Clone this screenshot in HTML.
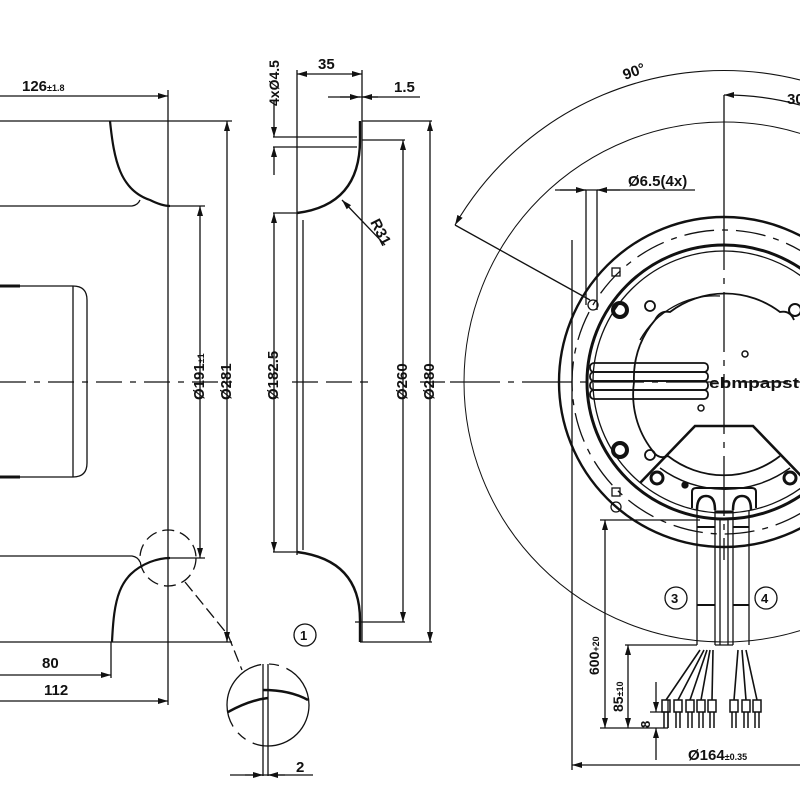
<!DOCTYPE html>
<html><head><meta charset="utf-8"><style>
html,body{margin:0;padding:0;background:#fff;width:800px;height:800px;overflow:hidden}
svg{display:block}
text{font-family:"Liberation Sans",sans-serif;font-weight:bold;fill:#111}
</style></head><body>
<svg width="800" height="800" viewBox="0 0 800 800" xmlns="http://www.w3.org/2000/svg">
<defs>
<marker id="a" viewBox="0 0 10 6" refX="10" refY="3" markerWidth="10" markerHeight="6" orient="auto-start-reverse" markerUnits="userSpaceOnUse"><path d="M0,0 L10,3 L0,6z" fill="#111"/></marker>
</defs>
<g stroke="#111" fill="none" stroke-width="1.3">
<!-- LEFT VIEW -->
<line x1="0" y1="121" x2="232" y2="121"/>
<path d="M110,121 C114,160 120,190 150,200 C158,204 164,206 170,206" stroke-width="2.2"/>
<path d="M0,206 L132,206 Q138,205 140,200"/>
<line x1="168" y1="206" x2="205" y2="206"/>
<line x1="0" y1="642" x2="232" y2="642"/>
<path d="M112,642 C114,600 118,575 150,562 C158,559 164,558 170,558" stroke-width="2.2"/>
<path d="M0,556 L132,556 Q138,557 140,562"/>
<line x1="168" y1="558" x2="205" y2="558"/>
<line x1="168" y1="90" x2="168" y2="705"/>
<line x1="0" y1="96" x2="168" y2="96" marker-end="url(#a)"/>
<line x1="200" y1="206" x2="200" y2="558" marker-start="url(#a)" marker-end="url(#a)"/>
<line x1="227" y1="121" x2="227" y2="642" marker-start="url(#a)" marker-end="url(#a)"/>
<path d="M0,286 L73,286 Q87,286 87,300 L87,463 Q87,477 73,477 L0,477"/>
<line x1="73" y1="286" x2="73" y2="477"/>
<line x1="0" y1="286" x2="20" y2="286" stroke-width="3"/>
<line x1="0" y1="477" x2="20" y2="477" stroke-width="3"/>
<line x1="0" y1="382" x2="240" y2="382" stroke-dasharray="26,8,6,8"/>
<line x1="111" y1="642" x2="111" y2="678"/>
<line x1="0" y1="675" x2="111" y2="675" marker-end="url(#a)"/>
<line x1="0" y1="701" x2="168" y2="701" marker-end="url(#a)"/>
<circle cx="168" cy="558" r="28" stroke-dasharray="12,6"/>
<path d="M185,582 L228,635 L242,670" stroke-dasharray="12,5"/>
<circle cx="268" cy="705" r="41" stroke-dasharray="80,8,10,8"/>
<line x1="263" y1="664" x2="263" y2="776"/>
<line x1="268" y1="664" x2="268" y2="776"/>
<path d="M228,712 Q250,700 268,698" stroke-width="2.5"/>
<path d="M263,690 Q290,690 308,700" stroke-width="2.5"/>
<line x1="230" y1="775" x2="313" y2="775"/>
<line x1="245" y1="775" x2="263" y2="775" marker-end="url(#a)"/>
<line x1="285" y1="775" x2="268" y2="775" marker-end="url(#a)"/>
<circle cx="305" cy="635" r="11"/>
<!-- MIDDLE VIEW -->
<line x1="297" y1="70" x2="297" y2="555"/>
<line x1="303" y1="220" x2="303" y2="550"/>
<line x1="362" y1="70" x2="362" y2="642"/>
<path d="M360,121 L360,140 Q360,205 297,213" stroke-width="2.4"/>
<path d="M360,642 L360,620 Q360,560 297,552" stroke-width="2.4"/>
<line x1="273" y1="137" x2="357" y2="137"/>
<line x1="273" y1="147" x2="357" y2="147"/>
<line x1="274" y1="100" x2="274" y2="137" marker-end="url(#a)"/>
<line x1="274" y1="175" x2="274" y2="147" marker-end="url(#a)"/>
<line x1="273" y1="213" x2="297" y2="213"/>
<line x1="274" y1="213" x2="274" y2="552" marker-start="url(#a)" marker-end="url(#a)"/>
<line x1="273" y1="552" x2="297" y2="552"/>
<line x1="297" y1="74" x2="362" y2="74" marker-start="url(#a)" marker-end="url(#a)"/>
<line x1="328" y1="97" x2="420" y2="97"/>
<line x1="340" y1="97" x2="360" y2="97" marker-end="url(#a)"/>
<line x1="378" y1="97" x2="362" y2="97" marker-end="url(#a)"/>
<line x1="362" y1="121" x2="432" y2="121"/>
<line x1="362" y1="140" x2="405" y2="140"/>
<line x1="403" y1="140" x2="403" y2="622" marker-start="url(#a)" marker-end="url(#a)"/>
<line x1="430" y1="121" x2="430" y2="642" marker-start="url(#a)" marker-end="url(#a)"/>
<line x1="355" y1="622" x2="405" y2="622"/>
<line x1="360" y1="642" x2="432" y2="642"/>
<line x1="385" y1="245" x2="342" y2="200" marker-end="url(#a)"/>
<line x1="292" y1="382" x2="368" y2="382" stroke-dasharray="26,8"/>
<line x1="420" y1="382" x2="445" y2="382"/>
<!-- RIGHT VIEW -->
<circle cx="724" cy="382" r="260" stroke-width="1"/>
<path d="M455,225 A311,311 0 0 1 800,80" stroke-width="1.1" marker-start="url(#a)"/>
<line x1="455" y1="225" x2="590" y2="300"/>
<path d="M724,95 A287,287 0 0 1 800,105" marker-start="url(#a)"/>
<line x1="724" y1="95" x2="724" y2="210"/>
<line x1="724" y1="210" x2="724" y2="560" stroke-dasharray="60,8,6,8"/>
<line x1="450" y1="382" x2="800" y2="382" stroke-dasharray="50,8,6,8"/>
<circle cx="724" cy="382" r="165" stroke-width="2.4"/>
<circle cx="724" cy="382" r="152" stroke-dasharray="30,8,6,8"/>
<circle cx="724" cy="382" r="137" stroke-width="3"/>
<circle cx="724" cy="382" r="131"/>
<path d="M640,345 A91,91 0 0 1 655,320 Q660,310 670,312 A91,91 0 0 1 780,312 Q790,310 794,320 M652,450 Q658,460 668,456 A91,91 0 0 0 780,456" stroke-width="1.8"/>
<path d="M634,382 A91,91 0 0 1 640,345 M652,450 A91,91 0 0 1 634,382" stroke-width="1.8"/>
<path d="M640,340 A86,86 0 0 1 720,296" />
<g stroke-width="1.8">
<rect x="590" y="363" width="118" height="9" rx="4"/>
<rect x="590" y="372" width="118" height="9" rx="4"/>
<rect x="590" y="381" width="118" height="9" rx="4"/>
<rect x="590" y="390" width="118" height="9" rx="4"/>
</g>
<circle cx="620" cy="310" r="7" stroke-width="4"/>
<circle cx="620" cy="450" r="7" stroke-width="4"/>
<circle cx="650" cy="306" r="5" stroke-width="1.8"/>
<circle cx="650" cy="455" r="5" stroke-width="1.8"/>
<circle cx="657" cy="478" r="6" stroke-width="3"/>
<circle cx="790" cy="478" r="6" stroke-width="3"/>
<circle cx="795" cy="310" r="6" stroke-width="2"/>
<circle cx="745" cy="354" r="3" stroke-width="1.5"/>
<circle cx="701" cy="408" r="3" stroke-width="1.5"/>
<circle cx="685" cy="485" r="3" fill="#111"/>
<rect x="612" y="268" width="8" height="8"/>
<rect x="612" y="488" width="8" height="8"/>
<circle cx="593" cy="305" r="5"/>
<circle cx="616" cy="507" r="5"/>
<path d="M640,483 L695,426 L753,426 L805,480" stroke-width="2.6"/>
<path d="M660,468 A110,110 0 0 0 790,468" stroke-width="1.5"/>
<path d="M555,190 L695,190"/>
<line x1="560" y1="190" x2="586" y2="190" marker-end="url(#a)"/>
<line x1="620" y1="190" x2="597" y2="190" marker-end="url(#a)"/>
<line x1="586" y1="190" x2="586" y2="305"/>
<line x1="597" y1="190" x2="597" y2="310"/>
<!-- cables -->
<path d="M692,508 L692,492 Q692,488 696,488 L752,488 Q756,488 756,492 L756,508" stroke-width="2"/>
<path d="M697,510 Q697,496 706,496 Q715,496 715,510 M733,510 Q733,496 742,496 Q751,496 751,510" stroke-width="2.5"/>
<line x1="697" y1="510" x2="697" y2="645"/><line x1="715" y1="510" x2="715" y2="645"/>
<line x1="733" y1="510" x2="733" y2="645"/><line x1="749" y1="510" x2="749" y2="645"/>
<line x1="720" y1="520" x2="720" y2="645"/><line x1="728" y1="520" x2="728" y2="645"/>
<line x1="715" y1="645" x2="733" y2="645"/>
<line x1="697" y1="527" x2="715" y2="527" stroke-width="2"/>
<line x1="733" y1="527" x2="749" y2="527" stroke-width="2"/>
<line x1="697" y1="605" x2="715" y2="605" stroke-width="2"/>
<line x1="733" y1="605" x2="749" y2="605" stroke-width="2"/>
<line x1="715" y1="512" x2="733" y2="512" stroke-width="3"/>
<g stroke-width="1.6">
<path d="M700,650 L666,700 M704,650 L678,700 M707,650 L690,700 M710,650 L701,700 M713,650 L712,700"/>
<path d="M738,650 L734,700 M742,650 L746,700 M746,650 L757,700"/>
</g>
<g stroke-width="1.5">
<rect x="662" y="700" width="8" height="12"/><rect x="674" y="700" width="8" height="12"/><rect x="686" y="700" width="8" height="12"/><rect x="697" y="700" width="8" height="12"/><rect x="708" y="700" width="8" height="12"/>
<rect x="730" y="700" width="8" height="12"/><rect x="742" y="700" width="8" height="12"/><rect x="753" y="700" width="8" height="12"/>
<path d="M664,712 V728 M668,712 V728 M676,712 V728 M680,712 V728 M688,712 V728 M692,712 V728 M699,712 V728 M703,712 V728 M710,712 V728 M714,712 V728 M732,712 V728 M736,712 V728 M744,712 V728 M748,712 V728 M755,712 V728 M759,712 V728"/>
</g>
<circle cx="676" cy="598" r="11"/>
<circle cx="766" cy="598" r="11"/>
<!-- dims right -->
<line x1="600" y1="520" x2="700" y2="520"/>
<line x1="605" y1="520" x2="605" y2="728" marker-start="url(#a)" marker-end="url(#a)"/>
<line x1="600" y1="728" x2="668" y2="728"/>
<line x1="625" y1="645" x2="697" y2="645"/>
<line x1="628" y1="645" x2="628" y2="728" marker-start="url(#a)" marker-end="url(#a)"/>
<line x1="656" y1="682" x2="656" y2="712" marker-end="url(#a)"/>
<line x1="656" y1="760" x2="656" y2="728" marker-end="url(#a)"/>
<line x1="650" y1="712" x2="668" y2="712"/>
<line x1="668" y1="700" x2="668" y2="728"/>
<line x1="572" y1="240" x2="572" y2="770"/>
<line x1="572" y1="765" x2="800" y2="765" marker-start="url(#a)"/>
</g>
<!-- text -->
<text x="22" y="91" font-size="15">126<tspan font-size="9">±1.8</tspan></text>
<text x="42" y="668" font-size="15">80</text>
<text x="44" y="695" font-size="15">112</text>
<text x="296" y="772" font-size="15">2</text>
<text x="300" y="640" font-size="13" font-weight="normal">1</text>
<text x="318" y="69" font-size="15">35</text>
<text x="394" y="92" font-size="15">1.5</text>
<text transform="translate(279,106) rotate(-90)" font-size="14">4xØ4.5</text>
<text transform="translate(370,222) rotate(63)" font-size="15">R31</text>
<text transform="translate(204,400) rotate(-90)" font-size="15">Ø191<tspan font-size="9">±1</tspan></text>
<text transform="translate(231,400) rotate(-90)" font-size="15">Ø281</text>
<text transform="translate(278,400) rotate(-90)" font-size="15">Ø182.5</text>
<text transform="translate(407,400) rotate(-90)" font-size="15">Ø260</text>
<text transform="translate(434,400) rotate(-90)" font-size="15">Ø280</text>
<text transform="translate(625,80) rotate(-20)" font-size="15">90°</text>
<text x="787" y="104" font-size="15">30</text>
<text x="628" y="186" font-size="15">Ø6.5(4x)</text>
<text x="709" y="388" font-size="15" textLength="90" lengthAdjust="spacingAndGlyphs">ebmpapst</text>
<text x="671" y="603" font-size="13" font-weight="normal">3</text>
<text x="761" y="603" font-size="13" font-weight="normal">4</text>
<text transform="translate(599,675) rotate(-90)" font-size="14">600<tspan font-size="9">+20</tspan></text>
<text transform="translate(623,712) rotate(-90)" font-size="14">85<tspan font-size="9">±10</tspan></text>
<text transform="translate(650,728) rotate(-90)" font-size="13">8</text>
<text x="688" y="760" font-size="15">Ø164<tspan font-size="9">±0.35</tspan></text>
</svg>
</body></html>
